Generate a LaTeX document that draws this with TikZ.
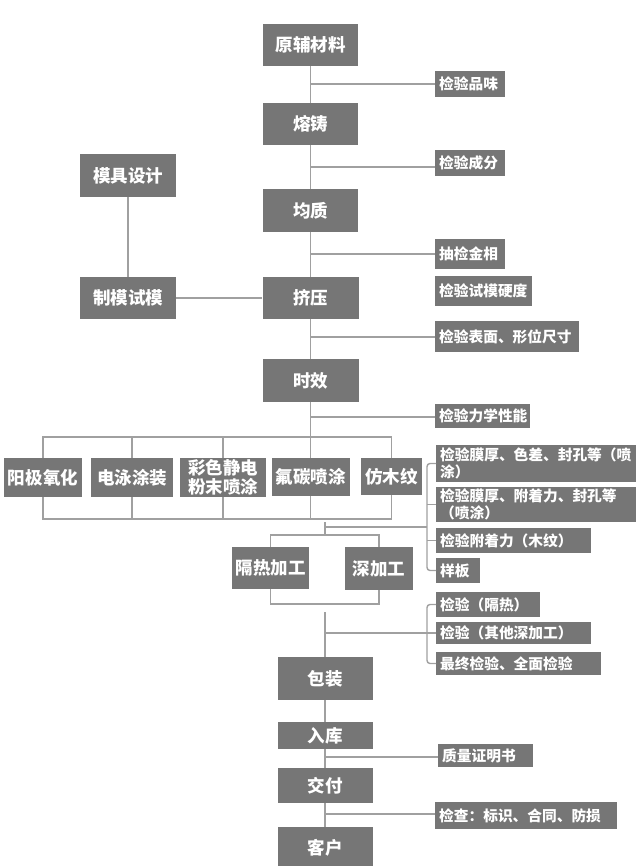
\documentclass[tikz,border=0pt]{standalone}
\usepackage{fontspec}
\setmainfont{Noto Sans CJK SC}
\definecolor{boxgray}{RGB}{118,118,118}
\definecolor{linegray}{RGB}{160,160,160}
\begin{document}
\begin{tikzpicture}[x=1pt,y=-1pt,
  box/.style={fill=boxgray, text=white, font=\bfseries\fontsize{17.5}{18.5}\selectfont, inner sep=0pt, align=center},
  chk/.style={fill=boxgray, text=white, font=\bfseries\fontsize{14.7}{16.8}\selectfont, anchor=west, inner xsep=4pt, inner ysep=0pt, align=left},
  ln/.style={draw=linegray, line width=1.4pt}]
\useasboundingbox (0,0) rectangle (640,866);
\fill[white] (0,0) rectangle (640,866);
% main column
\node[box, minimum width=95pt, minimum height=42pt] (m1) at (310.5,45) {原辅材料};
\node[box, minimum width=95pt, minimum height=42pt] (m2) at (310.5,124) {熔铸};
\node[box, minimum width=95pt, minimum height=43pt] (m3) at (310.5,210.5) {均质};
\node[box, minimum width=96pt, minimum height=42pt] (m4) at (310.5,298) {挤压};
\node[box, minimum width=96pt, minimum height=43pt] (m5) at (310.5,380.5) {时效};
% die design
\node[box, minimum width=96pt, minimum height=43pt] (d1) at (128,175.5) {模具设计};
\node[box, minimum width=96pt, minimum height=42pt] (d2) at (128,298) {制模试模};
% treatments
\node[box, minimum width=78pt, minimum height=39pt] (t1) at (43,477.5) {阳极氧化};
\node[box, minimum width=82pt, minimum height=39pt] (t2) at (132,477.5) {电泳涂装};
\node[box, minimum width=86pt, minimum height=39pt] (t3) at (223,477.5) {彩色静电\\粉末喷涂};
\node[box, minimum width=78pt, minimum height=38pt] (t4) at (310.5,477) {氟碳喷涂};
\node[box, minimum width=61pt, minimum height=37pt] (t5) at (391.5,476.5) {仿木纹};
% processing
\node[box, minimum width=77pt, minimum height=42pt] (p1) at (270.5,568) {隔热加工};
\node[box, minimum width=68pt, minimum height=43pt] (p2) at (379,568.5) {深加工};
% bottom column
\node[box, minimum width=95pt, minimum height=43pt] (b1) at (325,678.5) {包装};
\node[box, minimum width=95pt, minimum height=27pt] (b2) at (325,735.5) {入库};
\node[box, minimum width=95pt, minimum height=35pt] (b3) at (325,785.5) {交付};
\node[box, minimum width=95pt, minimum height=41pt] (b4) at (325,847.5) {客户};
% checks
\node[chk, minimum height=26pt, text width=62pt] (c1) at (435,84) {检验品味};
\node[chk, minimum height=26pt, text width=62pt] (c2) at (435,163) {检验成分};
\node[chk, minimum height=30pt, text width=62pt] (c3) at (435,254) {抽检金相};
\node[chk, minimum height=30pt, text width=89pt] (c4) at (435,291) {检验试模硬度};
\node[chk, minimum height=31pt, text width=136pt] (c5) at (435,336.5) {检验表面、形位尺寸};
\node[chk, minimum height=24pt, text width=87pt] (c6) at (435,416) {检验力学性能};
\node[chk, minimum height=37pt, text width=192pt] (c7) at (436,463.5) {检验膜厚、色差、封孔等（喷\\涂）};
\node[chk, minimum height=35pt, text width=192pt] (c8) at (436,504.5) {检验膜厚、附着力、封孔等\\（喷涂）};
\node[chk, minimum height=25pt, text width=147pt] (c9) at (436,540.5) {检验附着力（木纹）};
\node[chk, minimum height=25pt, text width=36pt] (c10) at (436,570.5) {样板};
\node[chk, minimum height=25pt, text width=96pt] (c11) at (436,604.5) {检验（隔热）};
\node[chk, minimum height=22pt, text width=147pt] (c12) at (436,633) {检验（其他深加工）};
\node[chk, minimum height=23pt, text width=157pt] (c13) at (436,663.5) {最终检验、全面检验};
\node[chk, minimum height=23pt, text width=87pt] (c14) at (438,755.5) {质量证明书};
\node[chk, minimum height=27pt, text width=174pt] (c15) at (435,815.5) {检查：标识、合同、防损};
% helper coordinates
\coordinate (j1) at (310.5,84);
\coordinate (j2) at (310.5,167);
\coordinate (j3) at (310.5,254);
\coordinate (j5) at (310.5,337);
\coordinate (j6) at (310.5,417);
\coordinate (tb) at (0,437);
\coordinate (bb) at (0,519);
\coordinate (bx) at (427,0);
\coordinate (g1) at (325,522);
\coordinate (h1) at (325,527);
\coordinate (pb) at (0,535);
\coordinate (pb2) at (0,604);
\coordinate (g2) at (325,612);
\coordinate (h2) at (325,633);
\coordinate (k1) at (325,757);
\coordinate (k2) at (325,814);
% main connectors
\draw[ln] (m1.south) -- (m2.north);
\draw[ln] (m2.south) -- (m3.north);
\draw[ln] (m3.south) -- (m4.north);
\draw[ln] (m4.south) -- (m5.north);
\draw[ln] (m5.south) -- (t4.north);
\draw[ln] (j1) -- (j1 -| c1.west);
\draw[ln] (j2) -- (j2 -| c2.west);
\draw[ln] (j3) -- (j3 -| c3.west);
\draw[ln] (j5) -- (j5 -| c5.west);
\draw[ln] (j6) -- (j6 -| c6.west);
\draw[ln] (d1.south) -- (d2.north);
\draw[ln] (d2.east) -- (m4.west);
% treatment bars
\draw[ln] (t1.north) -- (t1.north |- tb) -- (t5.north |- tb) -- (t5.north);
\draw[ln] (t2.north) -- (t2.north |- tb);
\draw[ln] (t3.north) -- (t3.north |- tb);
\draw[ln] (t1.south) -- (t1.south |- bb) -- (t5.south |- bb) -- (t5.south);
\draw[ln] (t2.south) -- (t2.south |- bb);
\draw[ln] (t3.south) -- (t3.south |- bb);
\draw[ln] (t4.south) -- (t4.south |- bb);
% to processing
\draw[ln] (g1) -- (g1 |- pb);
\draw[ln] (h1) -- (h1 -| bx);
\draw[ln] (p1.north) -- (p1.north |- pb) -- (p2.north |- pb) -- (p2.north);
\draw[ln] (p1.south) -- (p1.south |- pb2) -- (p2.south |- pb2) -- (p2.south);
\draw[ln] (g2) -- (b1.north);
\draw[ln] (h2) -- (c12.west);
% right brackets
\draw[ln, rounded corners=3pt] (c7.west) -- (c7.west -| bx) -- (c10.west -| bx) -- (c10.west);
\draw[ln] (c8.west -| bx) -- (c8.west);
\draw[ln] (c9.west -| bx) -- (c9.west);
\draw[ln, rounded corners=3pt] (c11.west) -- (c11.west -| bx) -- (c13.west -| bx) -- (c13.west);
% bottom column
\draw[ln] (b1.south) -- (b2.north);
\draw[ln] (b2.south) -- (b3.north);
\draw[ln] (b3.south) -- (b4.north);
\draw[ln] (k1) -- (k1 -| c14.west);
\draw[ln] (k2) -- (k2 -| c15.west);
\end{tikzpicture}
\end{document}
